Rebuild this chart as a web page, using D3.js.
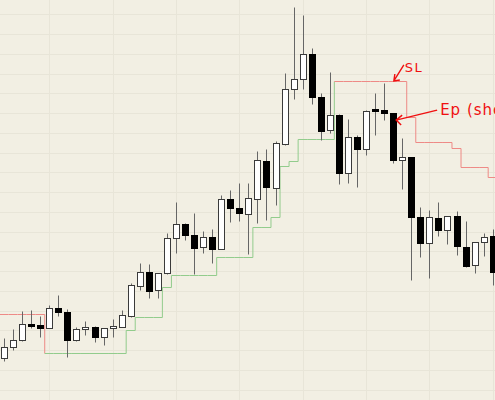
<html>
<head>
<script src="https://d3js.org/d3.v7.min.js"></script>
<style>
body { margin: 0; overflow: hidden; background: #f2efe3; }
</style>
</head>
<body>
<svg id="chart"></svg>
<script>

// candle data (one bar per entry)
var opens = [1126.0,1131.6,1135.1,1143.2,1142.9,1141.4,1151.3,1149.5,1135.1,1140.6,
    1141.9,1136.8,1141.1,1141.9,1147.5,1162.7,1169.7,1160.3,1168.9,1186.6,
    1193.9,1188.1,1182.1,1187.3,1181.2,1206.4,1202.0,1198.9,1206.7,1225.9,
    1212.0,1234.4,1262.1,1267.3,1280.0,1258.0,1241.5,1249.1,1219.5,1237.9,
    1231.9,1251.9,1251.6,1249.9,1226.3,1227.6,1197.4,1184.4,1197.1,1190.7,
    1197.8,1182.2,1173.1,1184.6,1187.8];
var highs = [1136.2,1140.7,1149.8,1150.3,1147.3,1152.9,1157.9,1150.8,1141.7,1144.8,
    1142.2,1141.3,1145.8,1150.3,1164.0,1174.1,1173.6,1169.2,1189.2,1204.9,
    1194.4,1199.3,1190.5,1191.3,1208.6,1211.1,1214.5,1214.8,1231.0,1231.7,
    1235.9,1270.5,1303.9,1299.7,1283.1,1260.4,1271.0,1249.6,1246.9,1238.9,
    1251.6,1260.2,1265.1,1250.1,1237.3,1227.8,1202.5,1201.0,1204.9,1198.0,
    1200.6,1195.5,1184.8,1189.5,1191.2];
var lows = [1124.5,1130.1,1134.6,1141.2,1136.7,1141.2,1147.3,1126.5,1134.9,1137.7,
    1134.1,1132.6,1136.7,1141.7,1147.0,1160.5,1156.6,1156.3,1168.6,1179.3,
    1185.8,1168.6,1179.3,1174.0,1181.0,1194.9,1195.5,1178.7,1194.5,1195.9,
    1203.5,1234.1,1257.0,1262.1,1254.6,1236.4,1239.8,1214.0,1214.8,1212.8,
    1228.8,1238.9,1246.5,1225.0,1211.6,1165.3,1177.3,1166.4,1187.8,1183.8,
    1178.2,1172.3,1168.9,1177.7,1163.0];
var closes = [1131.6,1135.1,1143.2,1142.5,1141.2,1151.5,1149.3,1135.1,1140.6,1141.7,
    1136.8,1141.1,1142.1,1147.8,1163.0,1169.7,1160.1,1168.9,1186.6,1193.9,
    1188.3,1182.0,1187.1,1181.1,1206.4,1202.0,1199.3,1206.9,1226.1,1212.5,
    1234.9,1262.1,1267.3,1280.0,1258.0,1241.1,1249.1,1219.5,1237.9,1231.9,
    1251.1,1251.3,1249.9,1226.3,1227.6,1197.6,1184.4,1197.4,1190.7,1197.8,
    1182.7,1172.8,1184.6,1187.4,1169.7];

// trailing stop level per bar, and which side it belongs to (L = long, S = short)
var stops = [1148.3,1148.3,1148.3,1148.3,1148.3,
    1128.6,1128.6,1128.6,1128.6,1128.6,1128.6,1128.6,1128.6,1128.6,
    1140.2,1146.8,1146.8,1146.8,1161.8,
    1167.9,1167.9,1167.9,1167.9,1167.9,
    1177.4,1177.4,1177.4,1177.4,1192.5,1192.5,1197.6,1223.3,1225.8,
    1236.8,1236.8,1236.8,1236.8,
    1266.3,1266.3,1266.3,1266.3,1266.3,1266.3,1266.3,1266.3,
    1248.2,1235.6,1235.6,1235.6,1235.6,1232.5,1222.6,1222.6,1222.6,1217.8];
var stopSide = ["S","S","S","S","S",
    "L","L","L","L","L","L","L","L","L","L","L","L","L","L","L","L","L","L","L","L",
    "L","L","L","L","L","L","L","L","L","L","L","L",
    "S","S","S","S","S","S","S","S","S","S","S","S","S","S","S","S","S","S"];

// grid
var gridPrices = [1110,1120,1130,1140,1150,1160,1170,1180,1190,1200,
    1210,1220,1230,1240,1250,1260,1270,1280,1290,1300];
var gridBars = [5,12,19,26,33,40,47,54];

// hand drawn notes
var notes = [
    {label: "SL", bar: 43, price: 1266.3},
    {label: "Ep (short)", bar: 43, price: 1246.5}
];

var width = 495;
var height = 400;

var svg = d3.select("#chart")
    .attr("width", width)
    .attr("height", height);

svg.append("rect")
    .attr("width", width)
    .attr("height", height)
    .attr("fill", "#f2efe3");

//scales
var xScale = d3.scaleLinear()
    .domain([0, opens.length - 1])
    .range([4, 492.7]);
var yScale = d3.scaleLinear()
    .domain([1104.8, 1307.3])
    .range([height, 0]);

var half = (xScale(1) - xScale(0)) / 2;
var px = function(i) { return Math.round(xScale(i)); };
var py = function(v) { return Math.round(yScale(v)) + 0.5; };

//grid
svg.append("g")
    .selectAll("line")
    .data(gridPrices)
    .enter()
    .append("line")
    .attr("x1", 0)
    .attr("x2", width)
    .attr("y1", function(p) { return py(p); })
    .attr("y2", function(p) { return py(p); })
    .attr("stroke", "#e8e5d8")
    .attr("stroke-width", 1);

svg.append("g")
    .selectAll("line")
    .data(gridBars)
    .enter()
    .append("line")
    .attr("x1", function(i) { return px(i) + 0.5; })
    .attr("x2", function(i) { return px(i) + 0.5; })
    .attr("y1", 0)
    .attr("y2", height)
    .attr("stroke", "#e8e5d8")
    .attr("stroke-width", 1);

//stop line, one path per run of the same side
var runs = [];
stops.forEach(function(s, i) {
    if (i == 0 || stopSide[i] != stopSide[i - 1]) {
        runs.push({side: stopSide[i], start: i, end: i});
    } else {
        runs[runs.length - 1].end = i;
    }
});

var stepPath = function(run) {
    var d = "M" + (xScale(run.start) - half) + "," + py(stops[run.start]);
    for (var i = run.start; i <= run.end; i++) {
        d += "H" + (xScale(i) + half);
        if (i + 1 < stops.length) {
            d += "V" + py(stops[i + 1]);
        }
    }
    return d;
};

svg.append("g")
    .selectAll("path")
    .data(runs)
    .enter()
    .append("path")
    .attr("d", stepPath)
    .attr("fill", "none")
    .attr("stroke", function(r) { return r.side == "L" ? "#92cc8c" : "#ee8a86"; })
    .attr("stroke-width", 1);

//candles
var bars = d3.range(opens.length);

svg.append("g")
    .selectAll("line")
    .data(bars)
    .enter()
    .append("line")
    .attr("x1", function(i) { return px(i) + 0.5; })
    .attr("x2", function(i) { return px(i) + 0.5; })
    .attr("y1", function(i) { return py(highs[i]); })
    .attr("y2", function(i) { return py(lows[i]); })
    .attr("stroke", "#666")
    .attr("stroke-width", 1);

svg.append("g")
    .selectAll("rect")
    .data(bars)
    .enter()
    .append("rect")
    .attr("x", function(i) { return px(i) - 3 + 0.5; })
    .attr("width", 6)
    .attr("y", function(i) { return py(Math.max(opens[i], closes[i])); })
    .attr("height", function(i) {
        return Math.max(1, py(Math.min(opens[i], closes[i])) - py(Math.max(opens[i], closes[i])));
    })
    .attr("fill", function(i) { return closes[i] >= opens[i] ? "#ffffff" : "#000000"; })
    .attr("stroke", function(i) { return closes[i] >= opens[i] ? "#3a3a3a" : "#000000"; })
    .attr("stroke-width", 1);

//notes
var sl = notes[0];
var slX = xScale(sl.bar) + 0.7;
var slY = yScale(sl.price);
svg.append("path")
    .attr("d", "M" + (slX + 10) + "," + (slY - 16) + "L" + slX + "," + slY +
        "M" + (slX + 1) + "," + (slY - 7) + "L" + slX + "," + slY + "L" + (slX + 6) + "," + (slY - 1))
    .attr("fill", "none")
    .attr("stroke", "#f01010")
    .attr("stroke-width", 1.4);
svg.append("text")
    .attr("x", slX + 11)
    .attr("y", slY - 9)
    .attr("font-family", "DejaVu Sans")
    .attr("font-size", 13)
    .attr("letter-spacing", 1.5)
    .attr("fill", "#f01010")
    .text(sl.label);

var ep = notes[1];
var epX = xScale(ep.bar) + 3;
var epY = yScale(ep.price);
svg.append("path")
    .attr("d", "M" + (epX + 41) + "," + (epY - 10) + "L" + epX + "," + epY +
        "M" + (epX + 6) + "," + (epY - 5) + "L" + epX + "," + epY + "L" + (epX + 5) + "," + (epY + 5))
    .attr("fill", "none")
    .attr("stroke", "#f01010")
    .attr("stroke-width", 1.4);
svg.append("text")
    .attr("x", epX + 44)
    .attr("y", epY - 5)
    .attr("font-family", "DejaVu Sans")
    .attr("font-size", 15)
    .attr("letter-spacing", 1)
    .attr("fill", "#f01010")
    .text(ep.label);

</script>
</body>
</html>
